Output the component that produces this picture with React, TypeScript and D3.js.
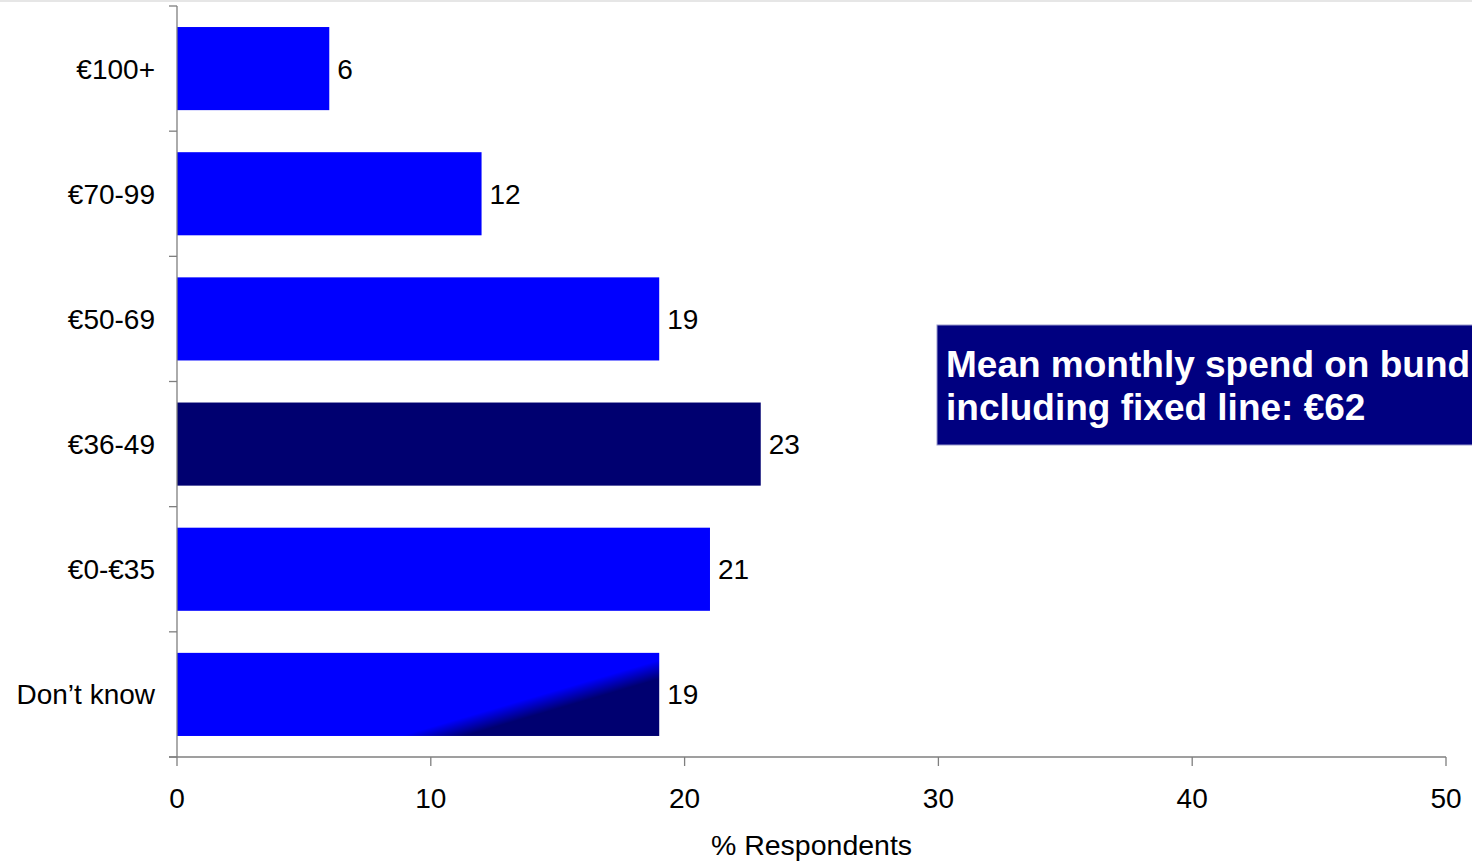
import React from "react";
import * as d3 from "d3";

// Spend bands, top to bottom, and share of respondents in each
const categories = ["€100+", "€70-99", "€50-69", "€36-49", "€0-€35", "Don’t know"];
const values = [6, 12, 19, 23, 21, 19];
const xTicks = [0, 10, 20, 30, 40, 50];
const axisTitle = "% Respondents";
const calloutLines = ["Mean monthly spend on bundle", "including fixed line: €62"];

const W = 1472;
const H = 863;
const margin = { left: 177, right: 26, top: 6, bottom: 106 };

const BLUE = "#0000FF";
const NAVY = "#000070";
const AXIS = "#7f7f7f";
const FONT = "'Liberation Sans', Arial, Helvetica, sans-serif";
const FS = 28;

export default function App() {
  const x = d3.scaleLinear().domain([0, 50]).range([margin.left, W - margin.right]);
  const y = d3
    .scaleBand<string>()
    .domain(categories)
    .range([margin.top, H - margin.bottom])
    .paddingInner(0.336)
    .paddingOuter(0.168);
  const bandStep = y.step();
  const boundaries = d3.range(categories.length + 1).map((i) => margin.top + i * bandStep);
  const axisY = H - margin.bottom;

  // Gradient for the last bar: blue shading into navy in the lower-right corner
  const lastCat = categories[categories.length - 1];
  const lx0 = x(0);
  const lx1 = x(values[values.length - 1]);
  const ly0 = y(lastCat)!;
  const ly1 = ly0 + y.bandwidth();
  const pA = [lx0 + 0.53 * (lx1 - lx0), ly1];
  const pB = [lx1, ly0 + 0.2 * (ly1 - ly0)];
  const mid = [(pA[0] + pB[0]) / 2, (pA[1] + pB[1]) / 2];
  const dx = pB[0] - pA[0];
  const dy = pB[1] - pA[1];
  const len = Math.hypot(dx, dy);
  const nx = -dy / len;
  const ny = dx / len;
  const spread = 9;

  return (
    <svg
      width={W}
      height={H}
      style={{ position: "fixed", left: 0, top: 0, background: "#fff" }}
      fontFamily={FONT}
    >
      <defs>
        <linearGradient
          id="dkGrad"
          gradientUnits="userSpaceOnUse"
          x1={mid[0] - nx * spread}
          y1={mid[1] - ny * spread}
          x2={mid[0] + nx * spread}
          y2={mid[1] + ny * spread}
        >
          <stop offset="0" stopColor={BLUE} />
          <stop offset="1" stopColor={NAVY} />
        </linearGradient>
      </defs>

      <rect x={0} y={0} width={W} height={2} fill="#e6e6e6" />

      {categories.map((c, i) => {
        const isLast = i === categories.length - 1;
        const fill = c === "€36-49" ? NAVY : isLast ? "url(#dkGrad)" : BLUE;
        const by = y(c)!;
        return (
          <g key={c}>
            <rect x={x(0)} y={by} width={x(values[i]) - x(0)} height={y.bandwidth()} fill={fill} />
            <text
              x={x(values[i]) + 8}
              y={by + y.bandwidth() / 2}
              dy="0.36em"
              fontSize={FS}
              fill="#000"
            >
              {values[i]}
            </text>
            <text
              x={155}
              y={by + y.bandwidth() / 2}
              dy="0.36em"
              fontSize={FS}
              textAnchor="end"
              fill="#000"
            >
              {c}
            </text>
          </g>
        );
      })}

      {/* value axis (vertical) with band boundary ticks */}
      <line x1={x(0)} x2={x(0)} y1={margin.top} y2={axisY} stroke={AXIS} strokeWidth={1.3} />
      {boundaries.map((b, i) => (
        <line key={i} x1={x(0) - 8} x2={x(0)} y1={b} y2={b} stroke={AXIS} strokeWidth={1.3} />
      ))}

      {/* horizontal axis */}
      <line x1={x(0) - 8} x2={x(50)} y1={axisY} y2={axisY} stroke={AXIS} strokeWidth={1.3} />
      {xTicks.map((t) => (
        <g key={t}>
          <line x1={x(t)} x2={x(t)} y1={axisY} y2={axisY + 9} stroke={AXIS} strokeWidth={1.3} />
          <text x={x(t)} y={axisY + 51} fontSize={FS} textAnchor="middle" fill="#000">
            {t}
          </text>
        </g>
      ))}
      <text x={(x(0) + x(50)) / 2} y={H - 8} fontSize={28.5} textAnchor="middle" fill="#000">
        {axisTitle}
      </text>

      {/* callout */}
      <rect x={937} y={325} width={560} height={120} fill="#000080" stroke="#9999cc" strokeWidth={1} />
      {calloutLines.map((l, i) => (
        <text key={i} x={946} y={377 + i * 43} fontSize={37} fontWeight="bold" fill="#fff">
          {l}
        </text>
      ))}
    </svg>
  );
}
